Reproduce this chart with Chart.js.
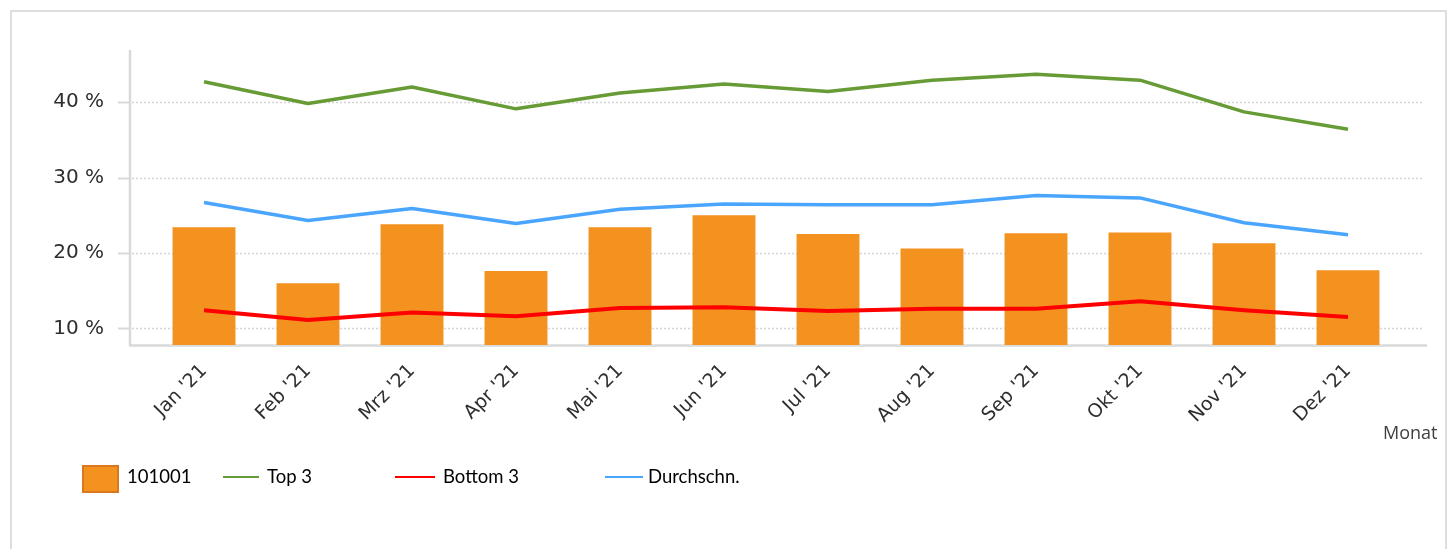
<!DOCTYPE html>
<html>
<head>
<meta charset="utf-8">
<script src="https://cdn.jsdelivr.net/npm/chart.js@4.4.1/dist/chart.umd.min.js"></script>
<style>
html,body{margin:0;padding:0;background:#fff;width:1455px;height:549px;overflow:hidden;}
#frame{position:absolute;left:10px;top:10px;width:1433px;height:600px;border:2px solid #dedede;}
#c{position:absolute;left:0;top:0;}
#monat{position:absolute;left:1383px;top:420px;font-family:"Open Sans",sans-serif;font-size:18px;line-height:24px;color:#404040;}
.lg-text{position:absolute;font-family:Lato,sans-serif;font-size:18.5px;line-height:20px;color:#000;white-space:nowrap;}
.lg-box{position:absolute;box-sizing:border-box;}
.lg-line{position:absolute;height:2px;}
</style>
</head>
<body>
<div id="frame"></div>
<canvas id="c" width="1455" height="549"></canvas>
<div id="monat">Monat</div>
<div id="legend"></div>
<script>
// ---- data ----
const months = ["Jan '21", "Feb '21", "Mrz '21", "Apr '21", "Mai '21", "Jun '21", "Jul '21", "Aug '21", "Sep '21", "Okt '21", "Nov '21", "Dez '21"];
const series101001 = [23.4, 16.0, 23.8, 17.6, 23.4, 25.0, 22.5, 20.6, 22.6, 22.7, 21.3, 17.7];
const top3 = [42.7, 39.8, 42.0, 39.1, 41.2, 42.4, 41.4, 42.9, 43.7, 42.9, 38.7, 36.4];
const bottom3 = [12.4, 11.1, 12.1, 11.6, 12.7, 12.8, 12.3, 12.6, 12.6, 13.6, 12.4, 11.5];
const durchschn = [26.7, 24.3, 25.9, 23.9, 25.8, 26.5, 26.4, 26.4, 27.6, 27.3, 24.0, 22.4];
const seriesNames = ["101001", "Top 3", "Bottom 3", "Durchschn."];
const yTickValues = [10, 20, 30, 40];
const xAxisTitle = "Monat";

// ---- frame / grid plugin ----
const frameLines = {
  id: 'frameLines',
  beforeDatasetsDraw(chart) {
    const {ctx, chartArea, scales} = chart;
    const y = scales.y;
    const axisX = chartArea.left - 22;
    const gridRight = chartArea.right + 23;
    ctx.save();
    yTickValues.forEach(v => {
      const py = Math.round(y.getPixelForValue(v)) + 0.5;
      ctx.strokeStyle = '#d4d4d4';
      ctx.lineWidth = 1.5;
      ctx.setLineDash([2, 2]);
      ctx.beginPath(); ctx.moveTo(axisX + 2, py); ctx.lineTo(gridRight, py); ctx.stroke();
      ctx.setLineDash([]);
      ctx.strokeStyle = '#d9d9d9';
      ctx.lineWidth = 2;
      ctx.beginPath(); ctx.moveTo(axisX - 12, py); ctx.lineTo(axisX, py); ctx.stroke();
    });
    ctx.strokeStyle = '#d9d9d9';
    ctx.lineWidth = 2.5;
    ctx.beginPath(); ctx.moveTo(axisX, chartArea.top); ctx.lineTo(axisX, chartArea.bottom + 1); ctx.stroke();
    ctx.beginPath(); ctx.moveTo(axisX - 1, chartArea.bottom + 0.5); ctx.lineTo(gridRight + 4, chartArea.bottom + 0.5); ctx.stroke();
    ctx.restore();
  }
};

const chart = new Chart(document.getElementById('c'), {
  data: {
    labels: months,
    datasets: [
      {type: 'bar', label: seriesNames[0], data: series101001, backgroundColor: '#F4921F', borderWidth: 0,
       categoryPercentage: 0.605, barPercentage: 1.0, order: 2},
      {type: 'line', label: seriesNames[1], data: top3, borderColor: '#679B35', borderWidth: 3.5,
       pointRadius: 0, tension: 0, fill: false, borderJoinStyle: 'round', order: 1},
      {type: 'line', label: seriesNames[2], data: bottom3, borderColor: '#FF0000', borderWidth: 4,
       pointRadius: 0, tension: 0, fill: false, borderJoinStyle: 'round', order: 1},
      {type: 'line', label: seriesNames[3], data: durchschn, borderColor: '#4AA5FF', borderWidth: 3.5,
       pointRadius: 0, tension: 0, fill: false, borderJoinStyle: 'round', order: 1}
    ]
  },
  options: {
    responsive: false,
    animation: false,
    layout: {padding: {top: 50, left: 10, right: 55, bottom: 0}},
    plugins: {legend: {display: false}, tooltip: {enabled: false}, title: {display: false}},
    scales: {
      x: {
        type: 'category',
        offset: true,
        grid: {display: false},
        border: {display: false},
        ticks: {
          minRotation: 45, maxRotation: 45, autoSkip: false,
          padding: 7, labelOffset: 0,
          color: '#2e2e2e',
          font: {family: 'DejaVu Sans', size: 19}
        },
        afterFit(s) { s.height = 204; s.paddingLeft = 0; s.paddingRight = 0; }
      },
      y: {
        type: 'linear',
        min: 7.8, max: 46.9,
        grid: {display: false},
        border: {display: false},
        ticks: {
          stepSize: 10, includeBounds: false, padding: 40,
          color: '#2e2e2e',
          font: {family: 'DejaVu Sans', size: 20},
          callback: v => v + ' %'
        },
        afterFit(s) { s.width = 142; s.paddingTop = 0; s.paddingBottom = 0; }
      }
    }
  },
  plugins: [frameLines]
});

// ---- legend (HTML, built from the chart's datasets) ----
const legendSlots = [
  {marker: 82, markerW: 37, text: 127},
  {marker: 223, markerW: 36, text: 267},
  {marker: 395, markerW: 40, text: 443},
  {marker: 605, markerW: 38, text: 648}
];
const legendEl = document.getElementById('legend');
chart.data.datasets.forEach((ds, i) => {
  const slot = legendSlots[i];
  const m = document.createElement('div');
  if (ds.type === 'bar') {
    m.className = 'lg-box';
    Object.assign(m.style, {left: slot.marker + 'px', top: '465px', width: slot.markerW + 'px', height: '28px',
      background: ds.backgroundColor, border: '2px solid #D9781C'});
  } else {
    m.className = 'lg-line';
    Object.assign(m.style, {left: slot.marker + 'px', top: '476px', width: slot.markerW + 'px', background: ds.borderColor});
  }
  legendEl.appendChild(m);
  const t = document.createElement('div');
  t.className = 'lg-text';
  t.style.left = slot.text + 'px';
  t.style.top = '466px';
  t.textContent = ds.label;
  legendEl.appendChild(t);
});
document.getElementById('monat').textContent = xAxisTitle;
</script>
</body>
</html>
